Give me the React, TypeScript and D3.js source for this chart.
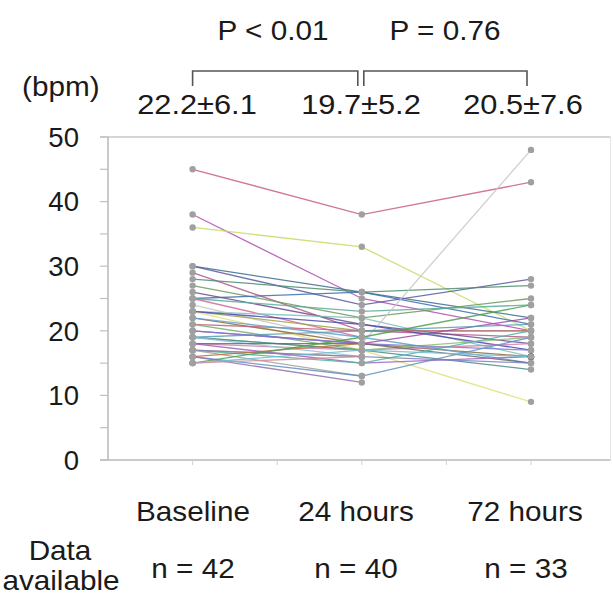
import React from "react";
import * as d3 from "d3";

const timepoints = ["Baseline", "24 hours", "72 hours"];
const timeX = [1, 3, 5];
const nLabels = ["n = 42", "n = 40", "n = 33"];
const meanLabels = ["22.2\u00b16.1", "19.7\u00b15.2", "20.5\u00b17.6"];
const pLabels = ["P < 0.01", "P = 0.76"];
const yTicks = [0, 10, 20, 30, 40, 50];
const yMinorTicks = [5, 15, 25, 35, 45];

const baseline = [45, 38, 36, 30, 30, 29, 28, 27, 26, 25, 25, 25, 23, 24, 23, 23, 23, 22, 21, 22, 21, 20, 19, 19, 20, 20, 19, 18, 19, 18, 17, 18, 17, 17, 17, 16, 16, 15, 16, 15, 15, 15];
const hours24 = [38, 25, 33, 26, 24, 20, 26, 22, 21, 26, 23, 19, 22, 18, 20, 17, 21, 18, 20, 19, 17, 18, 20, 17, 18, null, 17, 17, 16, 18, 16, 15, 15, 16, 13, 13, 18, 19, 12, 17, null, 16];
const hours72 = [43, 20, 20, 22, 28, 19, 27, 25, 18, 21, 24, null, 16, 48, 20, 9, 17, 16, 20, 15, null, 22, 21, 19, 17, 16, 14, 18, null, 15, null, 16, 20, 15, null, 19, null, 24, null, 16, null, null];
const highlighted = [31];

const lineColors = ["#c8607e", "#b050b0", "#c4dc64", "#3c6e8c", "#5a5aa0", "#b05a8c", "#4c8c6c", "#6a9a5a", "#6a4a8a", "#3c6eaa", "#5aaa9a", "#d06a9a", "#7ac0c0", "#c8c8c8", "#a0a04a", "#e0e07a", "#4a4ab0", "#8a6a3a", "#c06080", "#60a0d0", "#70b070", "#9a4aa0", "#5a9ab0", "#8ac070", "#7a7ad0", "#b08060", "#4a8a8a", "#d080b0", "#90c0e0", "#6a6a6a", "#c0a050", "#a060c0", "#50b0a0", "#8080c0", "#a0a0a0", "#6090c0", "#c07040", "#50a050", "#9070b0", "#70c0d0", "#b0b060", "#d090a0"];

const W = 613;
const H = 597;
const FS = 27;
const SX = 1.1;
const TXT = "#1a1a1a";

function T(props: { x: number; y: number; anchor?: string; dy?: string; children: React.ReactNode; sx?: number }) {
  const { x, y, anchor = "middle", dy, children, sx = SX } = props;
  return (
    <text transform={`translate(${x},${y}) scale(${sx},1)`} textAnchor={anchor} dy={dy} fontSize={FS} fill={TXT}>
      {children}
    </text>
  );
}

export default function App() {
  const x = d3.scaleLinear().domain([0, 6]).range([108, 615.6]);
  const y = d3.scaleLinear().domain([0, 50]).range([460, 137]);
  const series = baseline.map((b, i) => [b, hours24[i], hours72[i]]);
  const line = d3
    .line<number | null>()
    .defined((d) => d != null)
    .x((_, j) => x(timeX[j]))
    .y((d) => y(d as number));
  const font = "'Liberation Sans', Arial, sans-serif";
  const xRight = x(5.94);
  return (
    <svg width={W} height={H} style={{ position: "absolute", left: 0, top: 0, background: "#fff" }} fontFamily={font}>
      <rect x={0} y={0} width={W} height={H} fill="#fff" />
      <line x1={100} x2={xRight} y1={y(50)} y2={y(50)} stroke="#c8c8c8" strokeWidth={1.5} />
      <line x1={100} x2={xRight} y1={y(0)} y2={y(0)} stroke="#b8b8b8" strokeWidth={1.5} />
      <line x1={xRight} x2={xRight} y1={y(50)} y2={y(0)} stroke="#e4e4e4" strokeWidth={1} />
      <line x1={x(0)} x2={x(0)} y1={y(50)} y2={y(0)} stroke="#b8b8b8" strokeWidth={1.5} />
      {yTicks.concat(yMinorTicks).map((t) => (
        <line key={"yt" + t} x1={100} x2={x(0)} y1={y(t)} y2={y(t)} stroke="#c0c0c0" strokeWidth={1.2} />
      ))}
      {[1, 2, 3, 4, 5].map((t) => (
        <line key={"xt" + t} x1={x(t)} x2={x(t)} y1={y(0)} y2={y(0) + 5} stroke="#d0d0d0" strokeWidth={1} />
      ))}
      {yTicks.map((t) => (
        <T key={"yl" + t} x={79} y={y(t)} dy="0.36em" anchor="end" sx={1.02}>
          {t}
        </T>
      ))}
      {series.map((s, i) => (
        <path key={"l" + i} d={line(s) || ""} fill="none" stroke={lineColors[i % lineColors.length]} strokeWidth={1.3} strokeOpacity={0.85} />
      ))}
      {series.map((s, i) =>
        s.map((v, j) =>
          v == null ? null : (
            <circle key={"p" + i + "_" + j} cx={x(timeX[j])} cy={y(v)} r={3.2} fill={highlighted.includes(i) && j === 2 ? "#000" : "#a0a0a0"} />
          )
        )
      )}
      <T x={273} y={40}>{pLabels[0]}</T>
      <T x={445} y={40}>{pLabels[1]}</T>
      <path d={`M${x(1)},86V71H${x(3) - 4}V86`} fill="none" stroke="#555" strokeWidth={1.6} />
      <path d={`M${x(3) + 2},86V71H${x(5) - 4}V86`} fill="none" stroke="#555" strokeWidth={1.6} />
      <T x={22} y={96} anchor="start">(bpm)</T>
      {meanLabels.map((m, i) => (
        <T key={"m" + i} x={[197, 361, 523][i]} y={114} sx={1.14}>{m}</T>
      ))}
      {timepoints.map((t, i) => (
        <T key={"xl" + i} x={[193, 356, 525][i]} y={521}>{t}</T>
      ))}
      <T x={60} y={560}>Data</T>
      <T x={61} y={590}>available</T>
      {nLabels.map((t, i) => (
        <T key={"n" + i} x={[193, 356, 526][i]} y={578}>{t}</T>
      ))}
    </svg>
  );
}
